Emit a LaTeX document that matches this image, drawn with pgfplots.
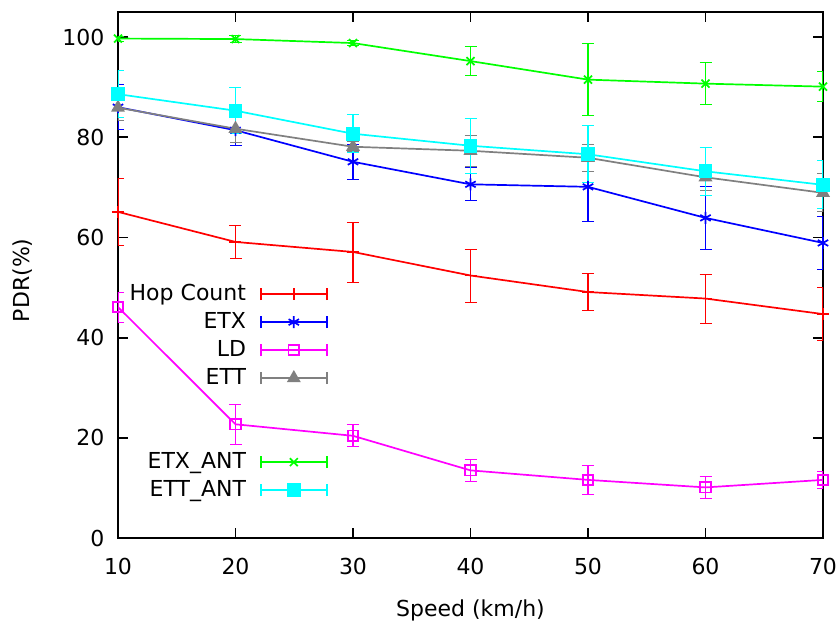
\documentclass[border=0pt]{standalone}
\usepackage{pgfplots}
\pgfplotsset{compat=1.18}
\usepackage{fontspec}
\setmainfont{DejaVu Sans}
\definecolor{cred}{RGB}{255,0,0}
\definecolor{cblue}{RGB}{0,0,255}
\definecolor{cmag}{RGB}{255,0,255}
\definecolor{cgray}{RGB}{128,128,128}
\definecolor{cgreen}{RGB}{0,255,0}
\definecolor{ccyan}{RGB}{0,255,255}
\begin{document}
\begin{tikzpicture}
\begin{axis}[
  scale only axis,
  width=352.5pt, height=263pt,
  xmin=10, xmax=70, ymin=0, ymax=105,
  xtick={10,20,30,40,50,60,70},
  ytick={0,20,40,60,80,100},
  tick align=inside,
  major tick length=5pt,
  every tick/.style={black, line width=0.9pt},
  axis line style={line width=1pt},
  /pgf/number format/assume math mode=true,
  tick label style={font=\fontsize{11}{13}\selectfont},
  xticklabel style={yshift=-6.5pt},
  yticklabel style={xshift=-3.3pt},
  label style={font=\fontsize{11}{13}\selectfont},
  xlabel={Speed (km/h)},
  ylabel={PDR(\%)},
  xlabel style={at={(axis description cs:0.5,-0.137)}, anchor=center},
  ylabel style={at={(axis description cs:-0.136,0.49)}, anchor=center},
  legend plot pos=right,
  legend cell align=right,
  legend style={draw=none, fill=none, at={(axis description cs:0.298,0.491)}, anchor=north east,
    font=\fontsize{11}{13}\selectfont, inner sep=0pt, row sep=0pt, column sep=7pt,
    nodes={inner sep=0pt, minimum height=14pt}},
  legend image code/.code={
    \draw[mark repeat=2,mark phase=2] plot coordinates {(0pt,0pt) (16.5pt,0pt) (33pt,0pt)};
    \draw[mark=none] (0pt,-3pt)--(0pt,3pt) (33pt,-3pt)--(33pt,3pt);
  },
  error bars/error bar style={line width=0.85pt},
  error bars/error mark options={rotate=90, mark size=3pt, line width=0.85pt},
  every axis plot/.append style={line width=0.85pt},
]
\addplot[color=cred, mark=+, mark size=3pt, mark options={solid},
  error bars/.cd, y dir=both, y explicit, error bar style={color=cred}, error mark options={color=cred, rotate=90, mark size=3pt}]
  table[x=x, y=y, y error=e, row sep=\\] {
  x y e \\
  10 65.1 6.7 \\
  20 59.1 3.3 \\
  30 57.1 6.0 \\
  40 52.4 5.3 \\
  50 49.1 3.7 \\
  60 47.8 4.9 \\
  70 44.7 5.3 \\
  };
\addlegendentry{Hop Count}
\addplot[color=cblue, mark=asterisk, mark size=3pt, mark options={solid},
  error bars/.cd, y dir=both, y explicit, error bar style={color=cblue}, error mark options={color=cblue, rotate=90, mark size=3pt}]
  table[x=x, y=y, y error=e, row sep=\\] {
  x y e \\
  10 86.0 4.5 \\
  20 81.4 3.0 \\
  30 75.1 3.5 \\
  40 70.6 3.3 \\
  50 70.1 6.9 \\
  60 63.9 6.3 \\
  70 58.9 5.2 \\
  };
\addlegendentry{ETX}
\addplot[color=cmag, mark=square, mark size=2.6pt, mark options={solid},
  error bars/.cd, y dir=both, y explicit, error bar style={color=cmag}, error mark options={color=cmag, rotate=90, mark size=3pt}]
  table[x=x, y=y, y error=e, row sep=\\] {
  x y e \\
  10 46.1 3.0 \\
  20 22.7 4.0 \\
  30 20.4 2.2 \\
  40 13.5 2.2 \\
  50 11.6 2.8 \\
  60 10.1 2.1 \\
  70 11.6 1.7 \\
  };
\addlegendentry{LD}
\addplot[color=cgray, mark=triangle*, mark size=3.2pt, mark options={solid, fill=cgray},
  error bars/.cd, y dir=both, y explicit, error bar style={color=cgray}, error mark options={color=cgray, rotate=90, mark size=3pt}]
  table[x=x, y=y, y error=e, row sep=\\] {
  x y e \\
  10 85.9 2.5 \\
  20 81.7 2.8 \\
  30 78.1 1.0 \\
  40 77.3 3.1 \\
  50 75.9 2.7 \\
  60 72.0 2.6 \\
  70 68.9 3.8 \\
  };
\addlegendentry{ETT}
\addlegendimage{empty legend}\addlegendentry{}
\addlegendimage{empty legend}\addlegendentry{}
\addplot[color=cgreen, mark=x, mark size=2.8pt, mark options={solid},
  error bars/.cd, y dir=both, y explicit, error bar style={color=cgreen}, error mark options={color=cgreen, rotate=90, mark size=3pt}]
  table[x=x, y=y, y error=e, row sep=\\] {
  x y e \\
  10 99.7 0.5 \\
  20 99.6 0.7 \\
  30 98.8 0.5 \\
  40 95.2 2.9 \\
  50 91.5 7.2 \\
  60 90.7 4.2 \\
  70 90.1 3.0 \\
  };
\addlegendentry{ETX\_ANT}
\addplot[color=ccyan, mark=square*, mark size=3pt, mark options={solid, fill=ccyan},
  error bars/.cd, y dir=both, y explicit, error bar style={color=ccyan}, error mark options={color=ccyan, rotate=90, mark size=3pt}]
  table[x=x, y=y, y error=e, row sep=\\] {
  x y e \\
  10 88.6 4.7 \\
  20 85.3 4.6 \\
  30 80.7 3.8 \\
  40 78.3 5.5 \\
  50 76.6 5.7 \\
  60 73.2 4.8 \\
  70 70.5 4.8 \\
  };
\addlegendentry{ETT\_ANT}
\end{axis}
\pgfresetboundingbox
\path[use as bounding box] (-59pt,-42pt) rectangle (361pt,269pt);
\end{tikzpicture}
\end{document}
